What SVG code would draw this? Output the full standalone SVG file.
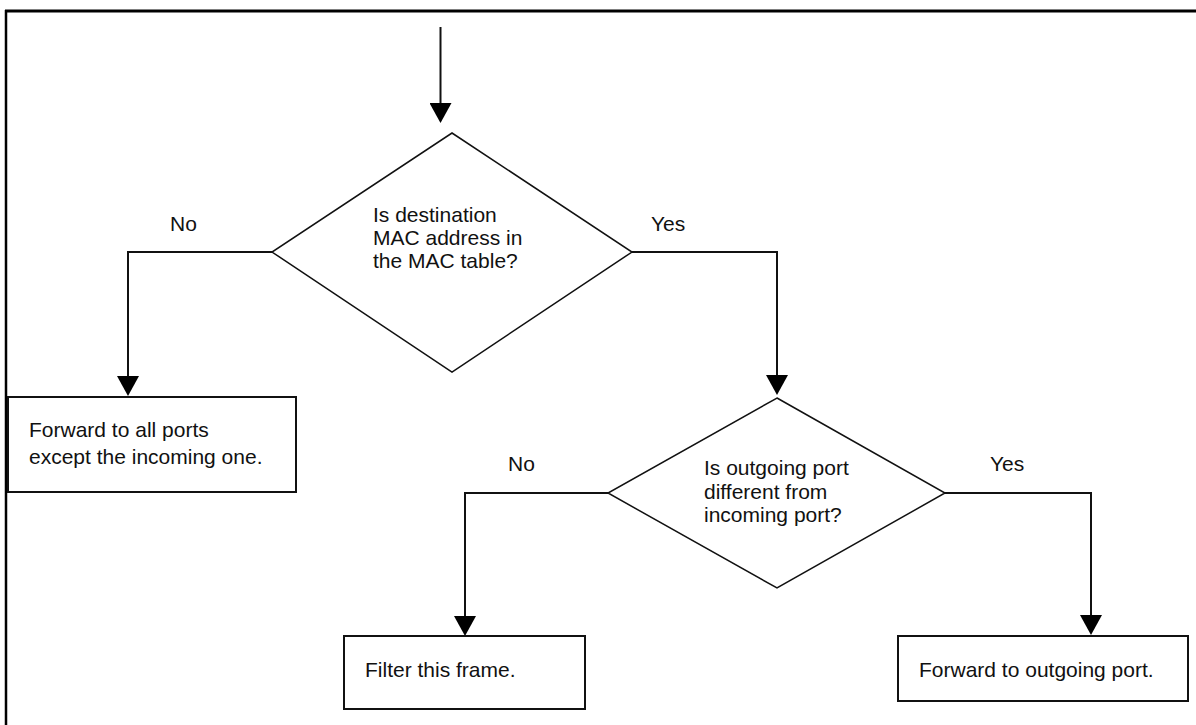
<svg xmlns="http://www.w3.org/2000/svg" width="1196" height="725" viewBox="0 0 1196 725">
<style>
.t{font-family:"Liberation Sans",Arial,sans-serif;font-size:21px;fill:#111}
.dia{fill:#fff;stroke:#111;stroke-width:1.5}
.box{fill:#fff;stroke:#111;stroke-width:2}
.con{fill:none;stroke:#111;stroke-width:2;marker-end:url(#arr)}
.frame{stroke:#000;fill:none}
</style>
<defs>
<marker id="arr" markerUnits="userSpaceOnUse" viewBox="0 0 20 22" refX="16" refY="11" markerWidth="20" markerHeight="22" orient="auto">
<path d="M0,0 L20,11 L0,22 Z" fill="#000"/>
</marker>
</defs>
<rect width="1196" height="725" fill="#fff"/>
<g id="frame">
<line class="frame" x1="5" y1="11" x2="1196" y2="11" stroke-width="3"/>
<line class="frame" x1="6" y1="10" x2="6" y2="725" stroke-width="2.5"/>
</g>
<g id="connectors">
<path class="con" d="M440.5,27 L440.5,119"/>
<path class="con" d="M272,252 L128,252 L128,392"/>
<path class="con" d="M632,252 L777,252 L777,391"/>
<path class="con" d="M608,493 L465,493 L465,632"/>
<path class="con" d="M945,493 L1091,493 L1091,631"/>
<text class="t" x="170" y="231">No</text>
<text class="t" x="651" y="231">Yes</text>
<text class="t" x="508" y="471">No</text>
<text class="t" x="990" y="471">Yes</text>
</g>
<g id="decision1">
<polygon class="dia" points="452,133 632,252 452,372 272,252"/>
<text class="t" x="373" y="222">Is destination</text>
<text class="t" x="373" y="245">MAC address in</text>
<text class="t" x="373" y="268">the MAC table?</text>
</g>
<g id="flood">
<rect class="box" x="8" y="397" width="288" height="95"/>
<text class="t" x="29" y="437">Forward to all ports</text>
<text class="t" x="29" y="464">except the incoming one.</text>
</g>
<g id="decision2">
<polygon class="dia" points="777,398 945,493 777,588 608,493"/>
<text class="t" x="704" y="475">Is outgoing port</text>
<text class="t" x="704" y="499">different from</text>
<text class="t" x="704" y="522">incoming port?</text>
</g>
<g id="filter">
<rect class="box" x="344" y="636" width="241" height="73"/>
<text class="t" x="365" y="677">Filter this frame.</text>
</g>
<g id="forward">
<rect class="box" x="898" y="636" width="290" height="65"/>
<text class="t" x="919" y="677">Forward to outgoing port.</text>
</g>
</svg>
